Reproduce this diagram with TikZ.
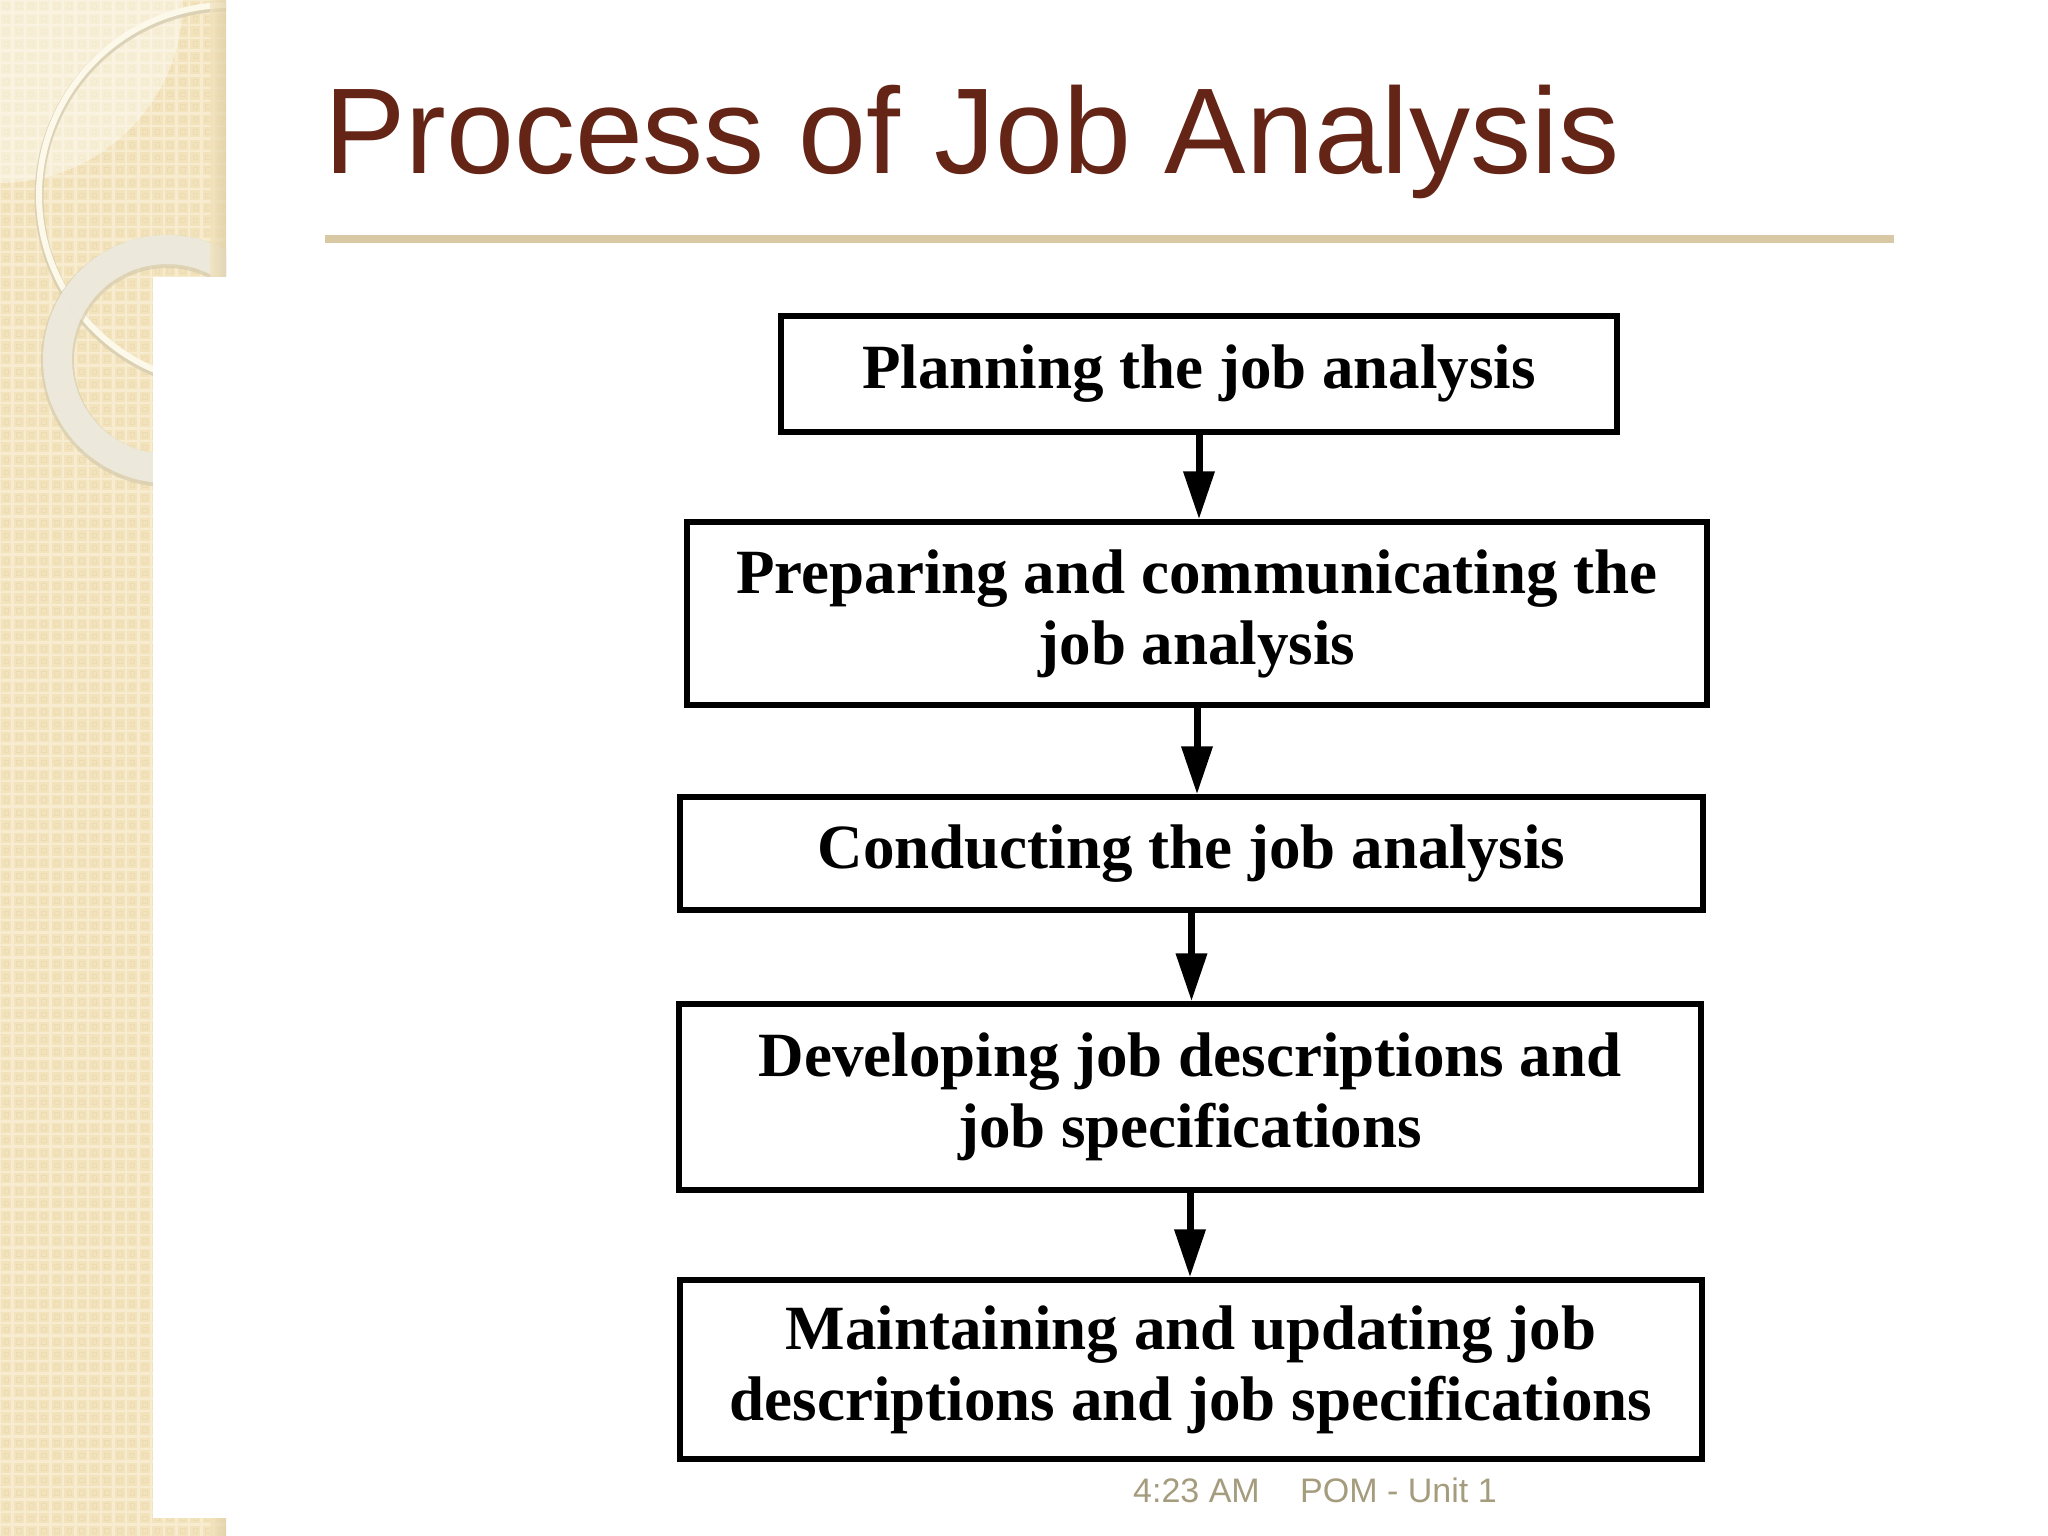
\documentclass[tikz,border=0pt]{standalone}
\usepackage{fontspec}
\setmainfont{Liberation Serif}
\newfontfamily\slidefont{Liberation Sans}
\usetikzlibrary{arrows.meta}

\definecolor{titlebrown}{RGB}{100,36,22}
\definecolor{rulebeige}{RGB}{216,201,164}
\definecolor{panelbeige}{RGB}{243,227,188}
\definecolor{panelgrid}{RGB}{247,236,207}
\definecolor{paneldot}{RGB}{237,220,177}
\definecolor{panelshade}{RGB}{222,206,166}
\definecolor{ringcream}{RGB}{253,249,234}
\definecolor{ringgrey}{RGB}{238,234,222}
\definecolor{ringedge}{RGB}{214,204,176}
\definecolor{footgrey}{RGB}{165,156,126}

\tikzset{
  stage/.style={draw=black, line width=5.5, inner sep=0, align=center,
    font=\fontsize{63}{71}\selectfont\bfseries, minimum width=1022},
  flow/.style={line width=7, -{Triangle[length=48pt,width=30pt]}},
}

\begin{document}
\begin{tikzpicture}[x=1pt,y=1pt,yscale=-1,xscale=1]
\useasboundingbox (0,0) rectangle (2048,1536);
\fill[white] (0,0) rectangle (2048,1536);

%Shape: left panel
\begin{scope}
\clip (0,0) rectangle (226,1536);
\fill[panelbeige] (0,0) rectangle (226,1536);
\draw[step=12.6, panelgrid, line width=2.4] (0,0) grid (226,1536);
\foreach \i in {0,...,17}
  \foreach \j in {0,...,121}
    \draw[paneldot, line width=1] (\i*12.6+4,\j*12.6+4) rectangle +(4.6,4.6);
%Shape: light corner
\fill[white, opacity=0.4] (0,0) circle (183);
%Shape: thin ring
\draw[ringedge, line width=9, opacity=0.8] (229,197) circle (190);
\draw[ringcream, line width=6] (229,195) circle (190);
%Shape: thick ring
\draw[ringedge, line width=33, opacity=0.7] (167,361) circle (109.5);
\draw[ringgrey, line width=29, opacity=0.92] (167,359) circle (109.5);
%Shape: panel edge shade
\shade[left color=panelbeige, right color=panelshade, opacity=0.7] (210,0) rectangle (226,1536);
\end{scope}

%Shape: scanned sheet
\fill[white] (153,277) rectangle (1789,1518);

% Text Node
\node[anchor=base west, inner sep=0, text=titlebrown,
  font=\slidefont\fontsize{122}{140}\selectfont] (title) at (324,174) {Process of Job Analysis};
%Straight Lines
\draw[rulebeige, line width=8] (325,239) -- (1894,239);

% Boxes
\node[stage, minimum width=836, minimum height=116] (plan) at (1199,374) {Planning the job analysis};
\node[stage, minimum width=1020, minimum height=183] (prep) at (1197,613.5) {Preparing and communicating the\\job analysis};
\node[stage, minimum width=1023, minimum height=113] (cond) at (1191.5,853.5) {Conducting the job analysis};
\node[stage, minimum height=186] (devl) at (1190,1097) {Developing job descriptions and\\job specifications};
\node[stage, minimum height=179] (mant) at (1191,1369.5) {Maintaining and updating job\\descriptions and job specifications};

%Straight Lines
\draw[flow] (plan.south) -- (plan.south |- prep.north);
\draw[flow] (prep.south) -- (prep.south |- cond.north);
\draw[flow] (cond.south) -- (cond.south |- devl.north);
\draw[flow] (devl.south) -- (devl.south |- mant.north);

% Text Node
\node[anchor=base west, inner sep=0, text=footgrey,
  font=\slidefont\fontsize{34}{40}\selectfont] (clock) at (1133,1502) {4:23 AM};
\node[anchor=base west, inner sep=0, text=footgrey,
  font=\slidefont\fontsize{34}{40}\selectfont] (unit) at (1300,1502) {POM - Unit 1};
\end{tikzpicture}
\end{document}
